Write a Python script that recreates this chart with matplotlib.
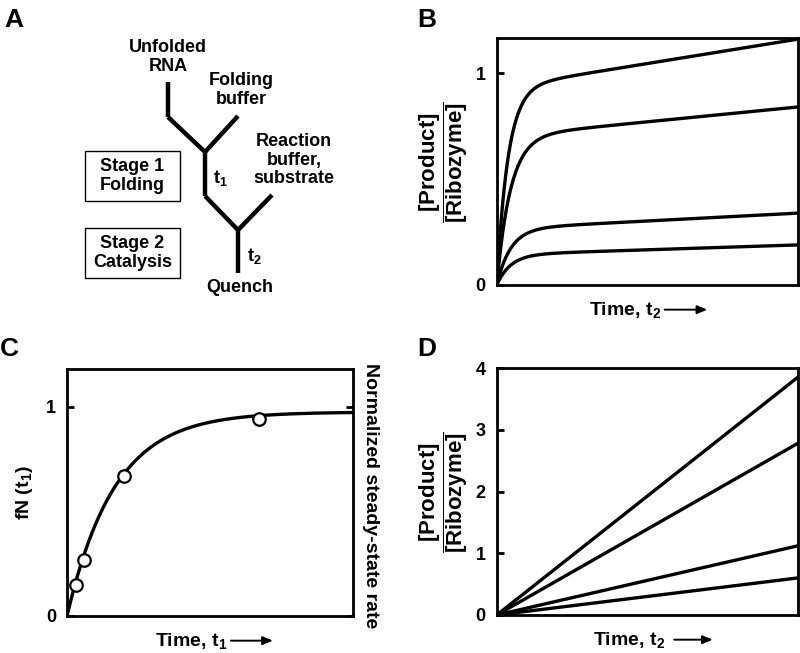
import numpy as np
import matplotlib
matplotlib.use("Agg")
import matplotlib.pyplot as plt
from matplotlib.patches import Rectangle

plt.rcParams['font.family'] = ['Liberation Sans', 'DejaVu Sans']
plt.rcParams['font.weight'] = 'bold'
plt.rcParams['axes.labelweight'] = 'bold'
plt.rcParams['mathtext.fontset'] = 'custom'
plt.rcParams['mathtext.rm'] = 'Liberation Sans:bold'
plt.rcParams['mathtext.bf'] = 'Liberation Sans:bold'
plt.rcParams['mathtext.it'] = 'Liberation Sans:bold'

# --- data -----------------------------------------------------------
# panel B: burst amplitude, burst rate, linear slope (time scaled 0..1)
b_amp = [0.93, 0.70, 0.265, 0.143]
b_slope = [0.23, 0.14, 0.074, 0.046]
b_rate = [27, 22, 22, 22]

# panel C: fraction native vs folding time
c_t = [0.033, 0.06, 0.20, 0.67]
c_fn = [0.148, 0.267, 0.67, 0.94]
c_amp = 0.975
c_rate = 6.0

# panel D: steady-state product at end of time axis
d_end = [3.85, 2.78, 1.12, 0.60]

ratio_label = r'$\dfrac{\mathbf{[Product]}}{\mathbf{[Ribozyme]}}$'
lw_ax = 2.0
lw_ln = 2.4

fig = plt.figure(figsize=(8, 6.53), dpi=100)


def style(ax):
    for s in ax.spines.values():
        s.set_linewidth(lw_ax)
    ax.tick_params(direction='in', length=5, width=lw_ax, labelsize=13,
                   pad=8, bottom=False, labelbottom=False)
    for lab in ax.get_yticklabels():
        lab.set_fontweight('bold')


def time_label(ax, txt, x_txt, x0, x1, y=-0.1):
    # "Time, t ->" label with a drawn arrow, in axes fraction
    ax.text(x_txt, y, txt, transform=ax.transAxes, ha='right', va='center',
            fontsize=14, fontweight='bold')
    ax.annotate('', xy=(x1, y), xytext=(x0, y), xycoords='axes fraction',
                arrowprops=dict(arrowstyle='-|>,head_length=0.6,head_width=0.25',
                                color='black', lw=1.4, shrinkA=0, shrinkB=0))


# --- panel A: schematic ---------------------------------------------
axA = fig.add_axes([0, 0, 0.5, 1])
axA.set_xlim(0, 400)
axA.set_ylim(653, 0)
axA.axis('off')
segs = [((168, 82), (168, 117)), ((168, 117), (205, 152)), ((205, 152), (238, 116)),
        ((205, 152), (205, 196)), ((205, 196), (238, 230)), ((238, 230), (272, 195)),
        ((238, 230), (238, 273))]
for (x0, y0), (x1, y1) in segs:
    axA.plot([x0, x1], [y0, y1], color='black', lw=3.2, solid_capstyle='butt')
tkw = dict(fontsize=13, fontweight='bold', ha='center', va='center', linespacing=1.1)
axA.text(168, 57, 'Unfolded\nRNA', **tkw)
axA.text(241, 90, 'Folding\nbuffer', **tkw)
axA.text(294, 160, 'Reaction\nbuffer,\nsubstrate', **tkw)
axA.text(220, 178, r't$_1$', **tkw)
axA.text(254, 256, r't$_2$', **tkw)
axA.text(240, 288, 'Quench', **tkw)
for y0, txt in [(151, 'Stage 1\nFolding'), (228, 'Stage 2\nCatalysis')]:
    axA.add_patch(Rectangle((85, y0), 95, 50, fill=False, lw=1, ec='black'))
    axA.text(132.5, y0 + 25, txt, **tkw)

# --- panel B ---------------------------------------------------------
axB = fig.add_axes([0.621, 0.5636, 0.376, 0.378])
t = np.linspace(0, 1, 400)
for a, v, k in zip(b_amp, b_slope, b_rate):
    axB.plot(t, a * (1 - np.exp(-k * t)) + v * t, color='black', lw=lw_ln)
axB.set_xlim(0, 1)
axB.set_ylim(0, 1.165)
axB.set_yticks([0, 1])
axB.set_yticklabels(['0', '1'])
style(axB)
axB.set_ylabel(ratio_label, fontsize=16, labelpad=4)
time_label(axB, r'Time, t$_\mathbf{2}$', 0.545, 0.558, 0.70)

# --- panel C ---------------------------------------------------------
axC = fig.add_axes([0.0838, 0.0567, 0.3575, 0.378])
axC.plot(t, c_amp * (1 - np.exp(-c_rate * t)), color='black', lw=lw_ln)
axC.plot(c_t, c_fn, 'o', ms=9, mfc='white', mec='black', mew=1.6)
axC.set_xlim(0, 1)
axC.set_ylim(0, 1.18)
axC.set_yticks([0, 1])
axC.set_yticklabels(['0', '1'])
style(axC)
axC.tick_params(right=True)
axC.set_ylabel(r'fN (t$_1$)', fontsize=14, labelpad=8)
time_label(axC, r'Time, t$_\mathbf{1}$', 0.559, 0.573, 0.72)
axC.text(1.06, 1.024, 'Normalized steady-state rate', transform=axC.transAxes,
         rotation=-90, ha='center', va='top', fontsize=14, fontweight='bold')

# --- panel D ---------------------------------------------------------
axD = fig.add_axes([0.621, 0.0582, 0.376, 0.378])
for e in d_end:
    axD.plot([0, 1], [0, e], color='black', lw=lw_ln)
axD.set_xlim(0, 1)
axD.set_ylim(0, 4)
axD.set_yticks([0, 1, 2, 3, 4])
style(axD)
axD.set_ylabel(ratio_label, fontsize=16, labelpad=4)
time_label(axD, r'Time, t$_\mathbf{2}$', 0.56, 0.59, 0.718)

# panel letters
for x, y, s in [(0.005, 0.97, 'A'), (0.522, 0.97, 'B'), (0.0, 0.465, 'C'), (0.522, 0.465, 'D')]:
    fig.text(x, y, s, fontsize=19, fontweight='bold', va='center')

fig.savefig('out.png', dpi=100)
